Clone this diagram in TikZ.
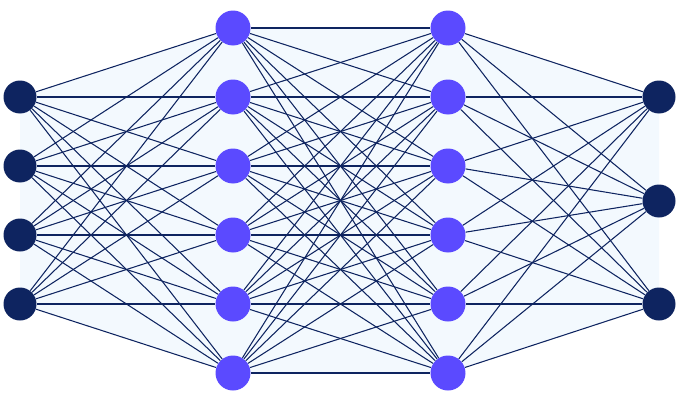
\documentclass[tikz,border=0pt]{standalone}
\usepackage{xcolor}
\definecolor{Navy}{RGB}{14,36,96}
\definecolor{Violet}{RGB}{91,74,255}
\definecolor{Hull}{RGB}{243,249,254}

\begin{document}
\begin{tikzpicture}[x=0.02cm,y=-0.02cm,
  inp/.style={circle, fill=Navy, minimum size=0.66cm, inner sep=0pt},
  hid/.style={circle, fill=Violet, minimum size=0.70cm, inner sep=0pt},
  outp/.style={circle, fill=Navy, minimum size=0.66cm, inner sep=0pt},
  wire/.style={Navy, line width=0.6pt}]
\useasboundingbox (0,0) rectangle (680,403);
\fill[Hull] (20,97) -- (233,28) -- (448,28) -- (659,97) -- (659,304) -- (448,373) -- (233,373) -- (20,304) -- cycle;

% layers
\foreach \y [count=\i] in {97,166,235,304}
  \node[inp] (in\i) at (20,\y) {};
\foreach \y [count=\i] in {28,97,166,235,304,373} {
  \node[hid] (ha\i) at (233,\y) {};
  \node[hid] (hb\i) at (448,\y) {};
}
\foreach \y [count=\i] in {97,201,304}
  \node[outp] (res\i) at (659,\y) {};

% connections
\foreach \a in {1,...,4}
  \foreach \b in {1,...,6}
    \draw[wire] (in\a) -- (ha\b);
\foreach \a in {1,...,6}
  \foreach \b in {1,...,6}
    \draw[wire] (ha\a) -- (hb\b);
\foreach \a in {1,...,6}
  \foreach \b in {1,...,3}
    \draw[wire] (hb\a) -- (res\b);
\end{tikzpicture}
\end{document}
